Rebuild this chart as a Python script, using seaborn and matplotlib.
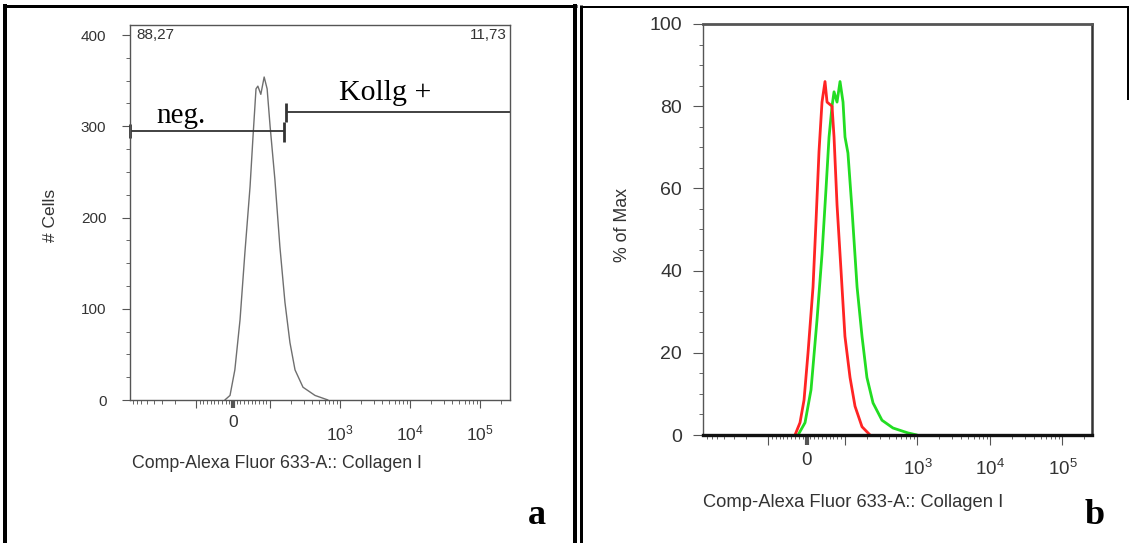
import numpy as np
import pandas as pd
import matplotlib
matplotlib.use("Agg")
import matplotlib.pyplot as plt
import seaborn as sns
from matplotlib.lines import Line2D
from matplotlib.ticker import FixedLocator, MultipleLocator, NullFormatter, FixedFormatter
from matplotlib.transforms import ScaledTranslation

# ---------------- data ----------------
# panel a: single histogram, # Cells vs Collagen I intensity
a_intensity = [-22, -8, 5, 19, 32, 46, 54, 62, 67, 75, 84, 92, 100, 117, 138, 163,
               192, 227, 295, 438, 671]
a_cells = [0, 5, 33, 88, 161, 234, 289, 341, 344, 335, 354, 341, 300, 242, 168, 107,
           63, 33, 14, 5, 0]

# panel b: overlay, % of Max
b_control_intensity = [-30, -17, -6.5, 3.9, 16.9, 24.7, 32.5, 40.3, 48.1, 53.4, 66.4,
                       71.6, 79.4, 89.8, 100, 117.5, 137.7, 172, 222]
b_control_pct = [0, 3, 8.5, 20, 36, 52, 69, 81, 86, 81, 80, 72.5, 56, 40, 24, 14, 7, 2, 0]
b_collagen_intensity = [-22, -3.9, 11.7, 27.3, 40.3, 50.8, 58.6, 66.4, 71.6, 79.4, 87.2,
                        95, 100.2, 110, 125, 147, 172, 201, 244, 324, 460, 741, 986]
b_collagen_pct = [0, 3, 11, 28, 44, 60, 72.5, 80, 83.5, 81, 86, 81, 72.5, 68.6, 55, 36,
                  24, 14, 7.8, 3.6, 1.7, 0.5, 0]

# gates in panel a
gate_names = ["neg.", "Kollg +"]
gate_start = [-873, 168]
gate_end = [160, 2.67e5]
gate_level = [295, 316]
gate_percent = ["88,27", "11,73"]

x_major = [-100, 0, 100, 1e3, 1e4, 1e5]
x_major_labels = ["", "0", "", r"$\mathregular{10^3}$", r"$\mathregular{10^4}$",
                  r"$\mathregular{10^5}$"]
x_label = "Comp-Alexa Fluor 633-A:: Collagen I"
a_ylabel = "# Cells"
b_ylabel = "% of Max"

# ---------------- style ----------------
sns.set_theme(style="white")
plt.rcParams["font.family"] = ["Liberation Sans", "DejaVu Sans"]
plt.rcParams["mathtext.fontset"] = "custom"
plt.rcParams["mathtext.rm"] = "Liberation Sans"

W, H = 1129, 543
fig = plt.figure(figsize=(W / 100, H / 100), dpi=100, facecolor="white")


def fx(px):
    return px / W


def fy(py):
    return 1 - py / H


axA = fig.add_axes([fx(130), fy(400), fx(510) - fx(130), fy(25) - fy(400)])
axB = fig.add_axes([fx(703), fy(435), fx(1092) - fx(703), fy(24) - fy(435)])

# ---------------- panel a ----------------
df_a = pd.DataFrame({"intensity": a_intensity, "cells": a_cells})
sns.lineplot(data=df_a, x="intensity", y="cells", ax=axA, color="#6f6f6f", lw=1.0,
             estimator=None)

# ---------------- panel b ----------------
df_b = pd.concat([
    pd.DataFrame({"intensity": b_collagen_intensity, "pct": b_collagen_pct,
                  "sample": "Collagen I"}),
    pd.DataFrame({"intensity": b_control_intensity, "pct": b_control_pct,
                  "sample": "control"}),
])
sns.lineplot(data=df_b, x="intensity", y="pct", hue="sample",
             palette={"Collagen I": "#22dd22", "control": "#ff2424"},
             ax=axB, lw=2.0, estimator=None, legend=False)

minor_x = ([-k * 100 for k in range(2, 10)] + [k * 10 for k in range(-9, 10) if k != 0]
           + [k * 10 ** e for e in (2, 3, 4) for k in range(2, 10)] + [2e5])

for ax, xlim in ((axA, (-873, 2.67e5)), (axB, (-791, 2.56e5))):
    ax.set_xscale("symlog", base=10, linthresh=100, linscale=0.477)
    ax.set_xlim(*xlim)
    ax.xaxis.set_major_locator(FixedLocator(x_major))
    ax.xaxis.set_major_formatter(FixedFormatter(x_major_labels))
    ax.xaxis.set_minor_locator(FixedLocator(minor_x))
    ax.xaxis.set_minor_formatter(NullFormatter())
    ax.set_facecolor("white")
    ax.grid(False)

# panel a axes styling
axA.set_ylim(0, 411)
axA.yaxis.set_major_locator(FixedLocator([0, 100, 200, 300, 400]))
axA.yaxis.set_minor_locator(MultipleLocator(25))
for s in axA.spines.values():
    s.set_color("#555555")
    s.set_linewidth(1.0)
axA.tick_params(axis="both", which="major", direction="out", length=6, width=0.8,
                color="#555555", labelcolor="#333333", bottom=True, left=True)
axA.tick_params(axis="y", which="major", labelsize=11, pad=11)
axA.tick_params(axis="x", which="major", labelsize=12.5, pad=5)
axA.tick_params(axis="both", which="minor", direction="out", length=3, width=0.7,
                color="#666666", bottom=True, left=True)

# panel b axes styling
axB.set_ylim(0, 100)
axB.yaxis.set_major_locator(FixedLocator([0, 20, 40, 60, 80, 100]))
axB.yaxis.set_minor_locator(MultipleLocator(5))
axB.spines["top"].set_color("#555555")
axB.spines["top"].set_linewidth(2.0)
axB.spines["right"].set_color("#333333")
axB.spines["right"].set_linewidth(1.8)
axB.spines["left"].set_color("#555555")
axB.spines["left"].set_linewidth(1.0)
axB.spines["bottom"].set_color("#111111")
axB.spines["bottom"].set_linewidth(2.4)
axB.tick_params(axis="both", which="major", direction="out", length=7, width=0.8,
                color="#555555", labelcolor="#333333", bottom=True, left=True)
axB.tick_params(axis="y", which="major", labelsize=14, pad=8)
axB.tick_params(axis="x", which="major", labelsize=13.5, pad=5)
axB.tick_params(axis="both", which="minor", direction="out", length=3, width=0.7,
                color="#666666", bottom=True, left=True)

# thicker tick at zero, offset the power-of-ten labels downward
for ax, dy in ((axA, 8), (axB, 7)):
    ticks = ax.xaxis.get_major_ticks()
    ticks[1].tick1line.set_markeredgewidth(3)
    ticks[1].tick1line.set_color("#111111")
    for t in ticks[3:]:
        t.label1.set_transform(t.label1.get_transform()
                               + ScaledTranslation(0, -dy / 100, fig.dpi_scale_trans))

# axis labels
axA.set_xlabel(x_label, loc="left", fontsize=12.8, color="#333333")
axA.xaxis.set_label_coords(0.005, -0.147)
axA.set_ylabel(a_ylabel, fontsize=12.5, color="#333333")
axA.yaxis.set_label_coords(-0.19, 0.493)

axB.set_xlabel(x_label, loc="left", fontsize=13.2, color="#333333")
axB.xaxis.set_label_coords(0.0, -0.1436)
axB.set_ylabel(b_ylabel, fontsize=12.8, color="#333333")
axB.yaxis.set_label_coords(-0.185, 0.511)

# gates (panel a)
gate_col = "#333333"
axA.hlines(gate_level, gate_start, gate_end, colors=gate_col, lw=1.3, clip_on=False)
axA.vlines([gate_start[0]], gate_level[0] - 8, gate_level[0] + 8, colors=gate_col,
           lw=2.0, clip_on=False)
axA.vlines([gate_end[0]], gate_level[0] - 12, gate_level[0] + 10, colors=gate_col,
           lw=2.0, clip_on=False)
axA.vlines([gate_start[1]], gate_level[1] - 11, gate_level[1] + 10, colors=gate_col,
           lw=2.0, clip_on=False)
axA.text(0.134, 0.739, gate_names[0], transform=axA.transAxes, ha="center",
         va="baseline", fontsize=21, family="Liberation Serif", color="black")
axA.text(0.671, 0.80, gate_names[1], transform=axA.transAxes, ha="center",
         va="baseline", fontsize=21.5, family="Liberation Serif", color="black")
axA.text(0.018, 0.973, gate_percent[0], transform=axA.transAxes, ha="left",
         va="center", fontsize=11, color="#333333")
axA.text(0.992, 0.973, gate_percent[1], transform=axA.transAxes, ha="right",
         va="center", fontsize=11, color="#333333")

# panel letters
fig.text(fx(537), fy(524), "a", ha="center", va="baseline", fontsize=26,
         family="Liberation Serif", weight="bold", color="black")
fig.text(fx(1095), fy(524), "b", ha="center", va="baseline", fontsize=26,
         family="Liberation Serif", weight="bold", color="black")

# panel frames
def frame_line(xs, ys, lw):
    fig.add_artist(Line2D([fx(x) for x in xs], [fy(y) for y in ys], color="black",
                          lw=lw * 0.72, transform=fig.transFigure,
                          solid_capstyle="butt"))


frame_line([5, 5], [4, 543], 4)
frame_line([3, 577], [5.5, 5.5], 3)
frame_line([575, 575], [4, 543], 4)
frame_line([581, 581], [5, 543], 3)
frame_line([580, 1129], [6.5, 6.5], 2)
frame_line([1127.5, 1127.5], [6, 100], 2)

fig.savefig("out.png", dpi=100, facecolor="white")
